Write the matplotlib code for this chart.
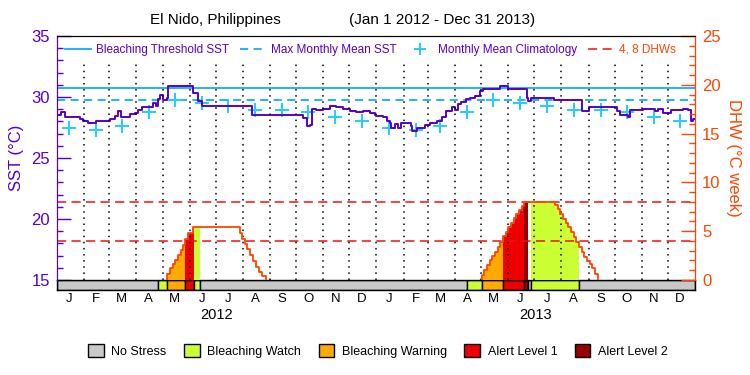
import numpy as np
import pandas as pd
import matplotlib
matplotlib.use("Agg")
import matplotlib.pyplot as plt
from matplotlib.lines import Line2D
from matplotlib.patches import Patch
from matplotlib.ticker import MultipleLocator

plt.rcParams['font.family'] = ['Liberation Sans', 'DejaVu Sans']

# days since 2012-01-01
sst_days = [0, 5, 9, 26, 30, 36, 45, 57, 61, 66, 70, 73, 84, 89, 93, 97, 110, 113, 116, 118,
            122, 126, 127, 156, 158, 162, 166, 223, 282, 286, 290, 292, 297, 305, 313, 320,
            328, 336, 343, 351, 359, 364, 366, 374, 378, 381, 383, 387, 391, 394, 406, 407,
            412, 422, 427, 431, 435, 441, 446, 452, 456, 459, 463, 469, 473, 479, 485, 488,
            508, 517, 538, 540, 543, 569, 601, 609, 642, 645, 654, 656, 671, 685, 689, 694,
            704, 717, 723, 726, 729, 731]
sst_vals = [28.5, 28.75, 28.34, 28.2, 28.06, 27.87, 28.0, 28.06, 28.22, 28.42, 28.83, 28.34,
            28.63, 28.7, 28.9, 29.15, 29.5, 29.3, 29.8, 30.14, 29.78, 29.9, 30.88, 30.33,
            30.33, 29.65, 29.24, 28.5, 28.28, 27.6, 27.7, 29.04, 28.9, 29.04, 29.24, 29.15,
            29.04, 28.83, 28.75, 28.83, 28.7, 28.56, 28.47, 28.34, 28.06, 27.87, 27.46, 27.78,
            27.46, 27.87, 27.6, 27.19, 27.46, 27.73, 27.9, 27.83, 28.06, 28.34, 28.83, 29.15,
            28.97, 29.43, 29.6, 29.8, 29.92, 30.05, 30.46, 30.68, 30.9, 30.68, 29.92, 29.7,
            29.92, 29.73, 28.83, 29.18, 28.83, 28.5, 28.37, 28.9, 29.04, 28.83, 29.04, 28.7,
            28.9, 29.04, 28.97, 28.0, 28.22, 28.22]

clim_vals = [27.46, 27.32, 27.65, 28.75, 29.73, 29.5, 29.3, 28.9, 28.9, 28.75, 28.34, 28.0]
mmm = 29.73
threshold = 30.73
dhw_levels = [4, 8]

dhw12_days = [126.4, 129.5, 132.5, 135.6, 138.6, 141.7, 144.7, 146.7, 150.5, 155.5, 209.7,
              212.4, 215.4, 218.1, 221.1, 224.9, 228.0, 231.8, 235.3, 239.1]
dhw12_vals = [0.58, 1.2, 1.64, 2.05, 2.56, 3.07, 3.58, 4.2, 4.78, 5.4, 4.85, 4.2, 3.69, 3.14,
              2.56, 1.98, 1.36, 0.85, 0.4, 0]
dhw13_days = [486.6, 489.6, 492.7, 495.8, 498.8, 501.9, 504.9, 508.0, 511.4, 514.1, 517.1,
              520.2, 523.2, 526.3, 529.4, 532.4, 535.5, 570.6, 573.7, 576.7, 579.8, 582.8,
              585.9, 588.9, 592.0, 595.0, 598.1, 601.2, 604.2, 607.3, 610.3, 613.4, 616.4, 619.5]
dhw13_vals = [0.51, 1.02, 1.54, 2.05, 2.46, 2.9, 3.42, 3.93, 4.5, 4.95, 5.46, 5.87, 6.32, 6.76,
              7.17, 7.58, 8.02, 7.68, 7.24, 6.76, 6.22, 5.8, 5.4, 4.95, 4.44, 3.93, 3.35, 2.9,
              2.39, 1.98, 1.64, 1.2, 0.61, 0]

stress_start = [0, 116, 126.4, 146.7, 157, 164, 469.4, 486.6, 511.4, 535.5, 540, 542.7, 598.3]
stress_level = [0, 1, 2, 3, 1, 0, 1, 2, 3, 4, 0, 1, 0]
stress_names = ['No Stress', 'Bleaching Watch', 'Bleaching Warning', 'Alert Level 1', 'Alert Level 2']
stress_colors = ['#c8c8c8', '#ccff33', '#ffaa00', '#ee0000', '#990000']

month_letters = ['J', 'F', 'M', 'A', 'M', 'J', 'J', 'A', 'S', 'O', 'N', 'D']
years = ['2012', '2013']

purple = '#5500cc'
orange = '#ff4500'
blue = '#11aaff'
cyan = '#22ccff'

ms = pd.date_range('2012-01-01', '2014-01-01', freq='MS')
month_start = np.array((ms - ms[0]).days, dtype=float)
total = month_start[-1]
month_mid = month_start[:-1] + 14

fig = plt.figure(figsize=(7.5, 3.75), dpi=100)
ax = fig.add_axes([0.076, 0.2533, 0.8507, 0.6507])
axb = fig.add_axes([0.076, 0.2267, 0.8507, 0.0267])
ax2 = ax.twinx()

# SST side
ax.set_xlim(0, total)
ax.set_ylim(15, 35)
ax.axhline(threshold, color=blue, lw=1.3)
ax.axhline(mmm, color=blue, lw=1.3, ls=(0, (4.5, 3)))
ax.plot(month_mid, clim_vals * 2, ls='none', marker='+', ms=10, mew=1.4, color=cyan)
ax.step(sst_days, sst_vals, where='post', color=purple, lw=1.4)

# DHW side
ax2.set_ylim(0, 25)
all_days = dhw12_days + dhw13_days
all_vals = dhw12_vals + dhw13_vals


def dhw_at(d):
    i = np.searchsorted(all_days, d, side='right') - 1
    return all_vals[i] if i >= 0 else 0


stress_end = stress_start[1:] + [total]
for s, e, lev in zip(stress_start, stress_end, stress_level):
    if lev == 0:
        continue
    xs = [s] + [d for d in all_days if s < d < e] + [e]
    ys = [dhw_at(x) for x in xs]
    ax2.fill_between(xs, 0, ys, step='post', color=stress_colors[lev], lw=0, zorder=1)

for days, vals in [(dhw12_days, dhw12_vals), (dhw13_days, dhw13_vals)]:
    ax2.step([days[0]] + days, [0] + vals, where='post', color=orange, lw=1.3, zorder=3)

for lv in dhw_levels:
    ax2.axhline(lv, color='#ee1111', lw=1.1, ls=(0, (6, 3.5)), zorder=2)

for m in month_start[1:-1]:
    ax2.axvline(m, ymax=0.889, color='black', lw=1.1, ls=(0, (1, 3)), zorder=2)

# axes styling
ax.set_xticks([])
ax.spines['bottom'].set_visible(False)
ax2.spines['bottom'].set_visible(False)
ax.spines['left'].set_color(purple)
ax2.spines['left'].set_color(purple)
ax2.spines['right'].set_color(orange)
ax.yaxis.set_major_locator(MultipleLocator(5))
ax.yaxis.set_minor_locator(MultipleLocator(1))
ax.tick_params(axis='y', which='major', direction='in', length=10, width=1, colors=purple,
               labelsize=12, pad=5)
ax.tick_params(axis='y', which='minor', direction='in', length=4.5, width=1, colors=purple)
ax2.yaxis.set_major_locator(MultipleLocator(5))
ax2.yaxis.set_minor_locator(MultipleLocator(1))
ax2.tick_params(axis='y', which='major', direction='in', length=10, width=1, colors=orange,
                labelsize=12, pad=5)
ax2.tick_params(axis='y', which='minor', direction='in', length=4.5, width=1, colors=orange)
ax.set_ylabel('SST (°C)', color=purple, fontsize=12, labelpad=5)
ax2.set_ylabel('DHW (°C week)', color=orange, fontsize=12, rotation=270, va='bottom', labelpad=4)

# stress bar
axb.set_xlim(0, total)
axb.set_ylim(0, 1)
for s, e, lev in zip(stress_start, stress_end, stress_level):
    axb.barh(0.5, e - s, left=s, height=1, color=stress_colors[lev], edgecolor='black', lw=1)
axb.set_yticks([])
axb.set_xticks(month_mid)
axb.set_xticklabels(month_letters * 2, fontsize=9.5)
axb.tick_params(axis='x', length=0, pad=2)
for sp in axb.spines.values():
    sp.set_linewidth(1)
for i, yr in enumerate(years):
    axb.text((month_start[12 * i] + month_start[12 * i + 12]) / 2, -2.45, yr, fontsize=10.5,
             ha='center', va='center', transform=axb.get_xaxis_transform())

# top legend
handles = [Line2D([], [], color=blue, lw=1.3),
           Line2D([], [], color=blue, lw=1.3, ls=(0, (4.5, 3))),
           Line2D([], [], color=cyan, ls='none', marker='+', ms=9, mew=1.4),
           Line2D([], [], color='#ee1111', lw=1.1, ls=(0, (6, 3.5)))]
labels = ['Bleaching Threshold SST', 'Max Monthly Mean SST', 'Monthly Mean Climatology', '4, 8 DHWs']
leg = ax2.legend(handles, labels, ncol=4, loc='center left', bbox_to_anchor=(0.012, 0.943),
                 frameon=False, fontsize=8.5, handlelength=2.2, handletextpad=0.45,
                 columnspacing=0.9, borderpad=0, borderaxespad=0)
for t, c in zip(leg.get_texts(), [purple, purple, purple, orange]):
    t.set_color(c)

# bottom legend
patches = [Patch(facecolor=c, edgecolor='black', lw=1) for c in stress_colors]
fig.legend(patches, stress_names, ncol=5, loc='center', bbox_to_anchor=(0.504, 0.064),
           frameon=False, fontsize=9, handlelength=1.25, handleheight=1.25,
           handletextpad=0.6, columnspacing=1.4)

fig.text(0.2, 0.947, 'El Nido, Philippines', fontsize=11, ha='left', va='center')
fig.text(0.465, 0.947, '(Jan 1 2012 - Dec 31 2013)', fontsize=11, ha='left', va='center')

fig.savefig('out.png', dpi=100)
